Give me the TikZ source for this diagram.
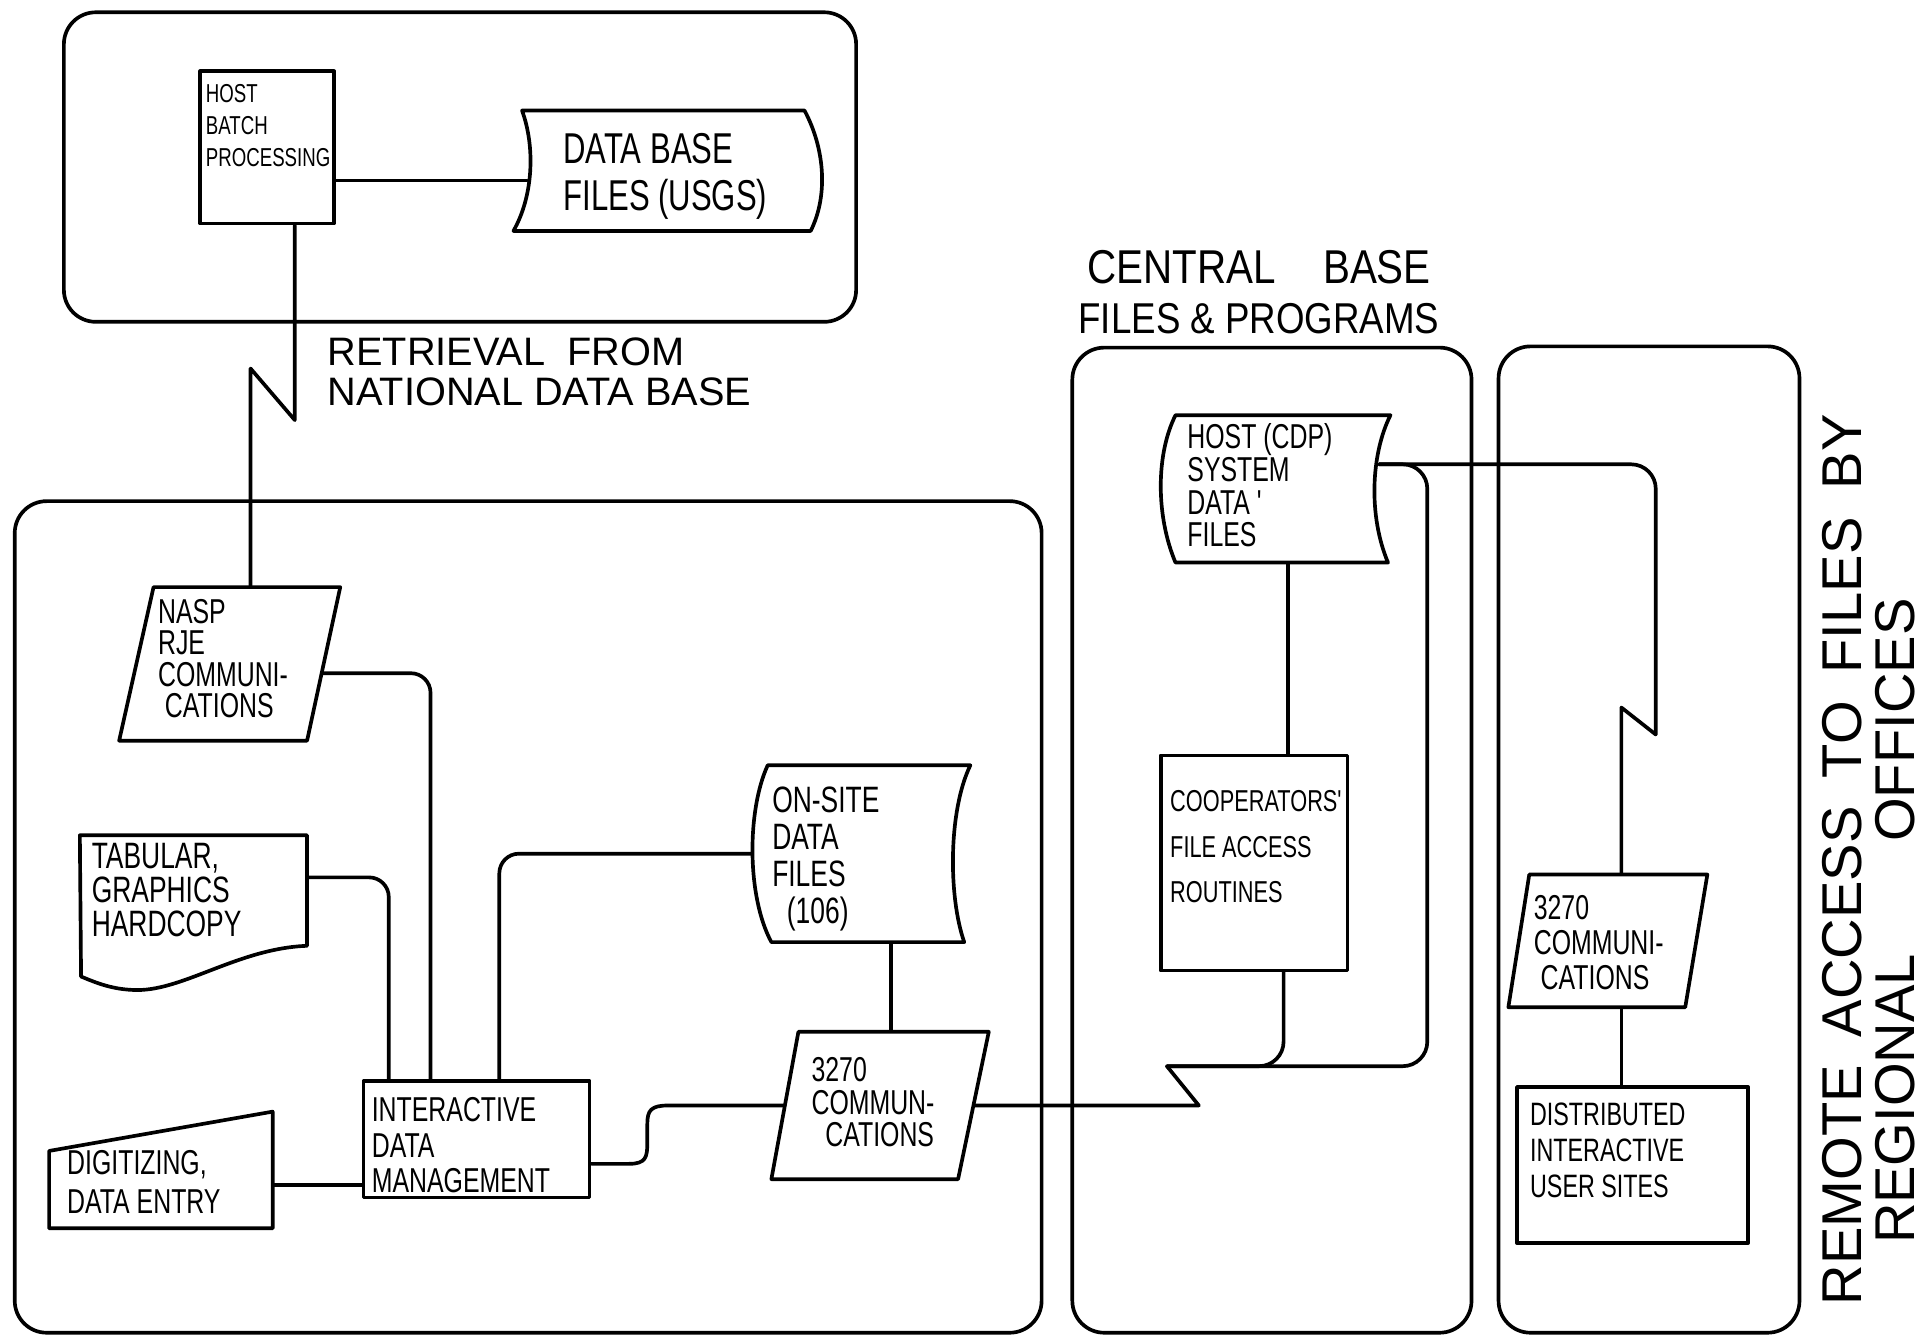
\documentclass[tikz,border=0pt]{standalone}
\usepackage{fontspec}
\setmainfont{Liberation Sans}
\newfontfamily\hand{Liberation Sans}[FakeStretch=0.72]
\newfontfamily\handw{Liberation Sans}[FakeStretch=0.85]
\usetikzlibrary{fit,calc}
\begin{document}
\begin{tikzpicture}[x=0.1mm,y=-0.1mm,
 ln/.style={line width=0.85pt, line join=round, line cap=round},
 conn/.style={ln},
 grp/.style={ln, draw, rounded corners=2.6mm, inner sep=0pt},
 blk/.style={ln, draw, inner sep=0pt},
 area/.style={inner sep=0pt},
 lbl/.style={anchor=north west, align=left, inner sep=0pt, font=\hand\fontsize{8}{7.6}\selectfont},
 big/.style={inner sep=0pt, font=\fontsize{9.2}{9.4}\selectfont},
]
\useasboundingbox (0,0) rectangle (1568,1090);

% ---------- top group ----------
\node[grp, fit={(52,10)(697,262)}] (topgrp) {};
\node[blk, fit={(163,58)(272,182)}] (host) {};
\node[lbl, font=\hand\fontsize{6}{7.4}\selectfont] (hostT) at (167,68) {HOST\\BATCH\\PROCESSING};

\node[area, fit={(430,90)(668,188)}] (dbf) {};
\draw[ln] (425,90) -- (655,90) .. controls (672,122) and (674,160) .. (660,188) -- (418,188) .. controls (434,160) and (436,120) .. (425,90) -- cycle;
\node[lbl, font=\hand\fontsize{10}{10.8}\selectfont] (dbfT) at (458,108) {DATA BASE\\FILES (USGS)};
\draw[conn] ([yshift=-2.7mm]host.east) -- ([yshift=-2.7mm]host.east -| dbf.west);

\node[big, anchor=north west, align=left] (retT) at (266,274) {RETRIEVAL\ \ FROM\\NATIONAL DATA BASE};

% ---------- local group ----------
\node[grp, fit={(12,408)(848,1085)}] (localgrp) {};

\node[area, fit={(97,478)(277,603)}] (nasp) {};
\draw[ln] (125,478) -- (277,478) -- (250,603) -- (97,603) -- cycle;
\node[lbl, font=\hand\fontsize{8}{7.3}\selectfont] (naspT) at (128,487) {NASP\\RJE\\COMMUNI-\\\ CATIONS};

% retrieval link
\coordinate (z1) at (240,342);
\coordinate (z2) at (204,300);
\draw[conn] (host.south -| z1) -- (z1) -- (z2) -- (z2 |- nasp.north);

\node[area, fit={(65,680)(250,806)}] (tab) {};
\draw[ln] (65,680) -- (250,680) -- (250,770) .. controls (195,772) and (150,806) .. (112,806) .. controls (92,806) and (78,800) .. (66,795) -- cycle;
\node[lbl, font=\hand\fontsize{8.5}{7.8}\selectfont] (tabT) at (74,686) {TABULAR,\\GRAPHICS\\HARDCOPY};

\node[blk, fit={(296,880)(480,975)}] (idm) {};
\node[lbl, font=\hand\fontsize{8}{8.2}\selectfont] (idmT) at (302,893) {INTERACTIVE\\DATA\\MANAGEMENT};

\node[area, fit={(40,905)(222,1000)}] (dig) {};
\draw[ln] (40,937) -- (222,905) -- (222,1000) -- (40,1000) -- cycle;
\node[lbl, font=\hand\fontsize{8}{9}\selectfont] (digT) at (54,936) {DIGITIZING,\\DATA ENTRY};

\node[area, fit={(613,623)(790,767)}] (onsite) {};
\draw[ln] (625,623) -- (790,623) .. controls (772,660) and (772,730) .. (785,767) -- (628,767) .. controls (608,730) and (608,660) .. (625,623) -- cycle;
\node[lbl, font=\hand\fontsize{8.5}{8.6}\selectfont] (onT) at (628,640) {ON-SITE\\DATA\\FILES\\\ \ (106)};

\node[area, fit={(628,840)(805,960)}] (c3270a) {};
\draw[ln] (650,840) -- (805,840) -- (780,960) -- (628,960) -- cycle;
\node[lbl, font=\hand\fontsize{8}{7.6}\selectfont] (c3aT) at (660,860) {3270\\COMMUN-\\\ \ CATIONS};

% local connectors
\draw[conn, rounded corners=1.6mm] ($(nasp.north east)!0.56!(nasp.south east)+(-15,0)$) -| ([xshift=5.6mm]idm.north west);
\draw[conn, rounded corners=1.6mm] ([yshift=-3.5mm]tab.north east) -| ([xshift=2.2mm]idm.north west);
\draw[conn, rounded corners=1.6mm] ([xshift=11.2mm]idm.north west) |- (onsite.west);
\draw[conn] ([yshift=-1.25mm]dig.east) -- ([yshift=-1.25mm]dig.east -| idm.west);
\draw[conn] ([xshift=2.4mm]onsite.south) -- ([xshift=2.4mm]onsite.south |- c3270a.north);
\draw[conn] ([yshift=-2mm]idm.east) -- (512,947.5) .. controls (526,947.5) and (527,942) .. (527,930) -- (527,915) .. controls (527,904) and (530,900) .. (544,900) -- ([xshift=1.1mm]c3270a.west);

% ---------- central group ----------
\node[grp, fit={(873,283)(1198,1085)}] (cengrp) {};
\node[big, align=center, font=\handw\fontsize{11}{11.6}\selectfont] (cenT) at (1025,238) {CENTRAL\quad BASE\\\fontsize{10}{11.6}\selectfont FILES \& PROGRAMS};

\node[area, fit={(945,338)(1122,458)}] (hcdp) {};
\draw[ln] (957,338) -- (1132,338) .. controls (1116,370) and (1114,420) .. (1130,458) -- (957,458) .. controls (941,420) and (941,370) .. (957,338) -- cycle;
\node[lbl, font=\hand\fontsize{8}{7.6}\selectfont] (hcT) at (966,344) {HOST (CDP)\\SYSTEM\\DATA '\\FILES};

\node[blk, fit={(945,615)(1097,790)}] (coop) {};
\node[lbl, font=\hand\fontsize{7}{10.5}\selectfont] (coT) at (952,643) {COOPERATORS'\\FILE ACCESS\\ROUTINES};

\draw[conn] ([xshift=1.5mm]hcdp.south) -- ([xshift=1.5mm]hcdp.south |- coop.north);

\coordinate (zz1) at (976,900);
\coordinate (zz2) at (950,868);
\draw[conn] ([xshift=-1.25mm]c3270a.east) -- (zz1) -- (zz2);
\draw[conn, rounded corners=2mm] (zz2) -| ([xshift=2.4mm]coop.south);
\coordinate (rb) at (1162,620);
\draw[conn, rounded corners=2mm] (zz2) -| (rb) |- ([yshift=2mm]hcdp.east);

% ---------- remote group ----------
\node[grp, fit={(1220,282)(1465,1085)}] (remgrp) {};

\node[area, fit={(1228,712)(1390,820)}] (c3270b) {};
\draw[ln] (1245,712) -- (1390,712) -- (1372,820) -- (1228,820) -- cycle;
\node[lbl, font=\hand\fontsize{8}{8.2}\selectfont] (c3bT) at (1248,728) {3270\\COMMUNI-\\\ CATIONS};

\node[blk, fit={(1235,885)(1423,1012)}] (dist) {};
\node[lbl, font=\hand\fontsize{7.5}{8.4}\selectfont] (diT) at (1245,897) {DISTRIBUTED\\INTERACTIVE\\USER SITES};

\coordinate (zz3) at (1348,598);
\coordinate (zz4) at (1320,576);
\draw[conn, rounded corners=2mm] ([yshift=2mm]hcdp.east) -| (zz3);
\draw[conn] (zz3) -- (zz4) -- (zz4 |- c3270b.north);
\draw[conn] ([xshift=1.1mm]c3270b.south) -- ([xshift=1.1mm]c3270b.south |- dist.north);

% side caption
\node[rotate=90, inner sep=0pt, font=\fontsize{13}{13}\selectfont] (remT) at (1500,700) {REMOTE\enspace ACCESS\enspace TO\enspace FILES\enspace BY};
\node[rotate=90, inner sep=0pt, font=\fontsize{13}{13}\selectfont] (regT) at (1543,750) {REGIONAL\qquad OFFICES};
\end{tikzpicture}
\end{document}
